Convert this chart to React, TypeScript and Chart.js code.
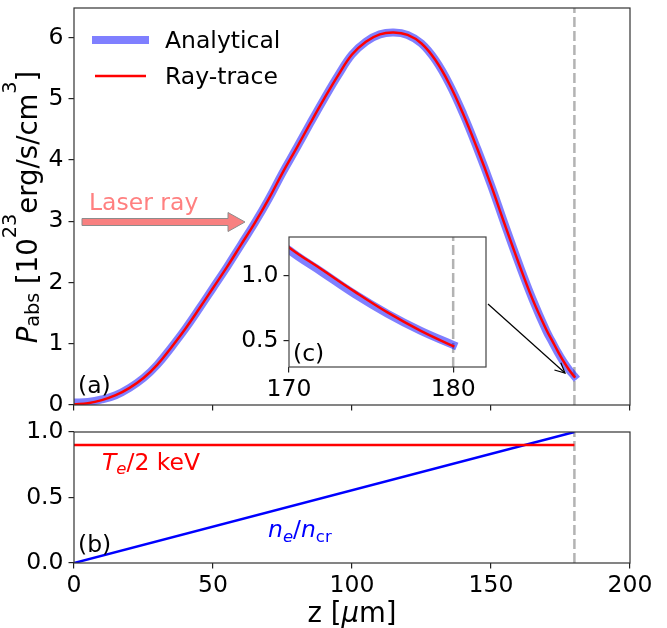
import React, { useEffect, useRef } from "react";
import { Chart, registerables } from "chart.js";

Chart.register(...registerables);

// ---------------- data ----------------
const zAbs = [0, 5, 10, 15, 20, 25, 30, 35, 40, 45, 50, 55, 60, 65, 70, 75, 80, 85, 90, 95, 100, 105, 110, 115, 120, 125, 130, 135, 140, 145, 150, 155, 160, 165, 170, 172, 174, 176, 178, 180];
const rayTrace = [0.01, 0.03, 0.08, 0.16, 0.28, 0.44, 0.66, 0.94, 1.24, 1.57, 1.91, 2.25, 2.61, 2.97, 3.36, 3.79, 4.19, 4.6, 5.0, 5.38, 5.72, 5.93, 6.05, 6.08, 6.04, 5.9, 5.63, 5.24, 4.75, 4.19, 3.59, 2.94, 2.31, 1.72, 1.22, 1.05, 0.88, 0.72, 0.58, 0.46];
const analytical = [0.04, 0.05, 0.09, 0.16, 0.28, 0.44, 0.66, 0.94, 1.24, 1.57, 1.91, 2.25, 2.61, 2.97, 3.36, 3.79, 4.19, 4.6, 5.0, 5.38, 5.72, 5.93, 6.05, 6.08, 6.04, 5.9, 5.63, 5.24, 4.75, 4.19, 3.59, 2.94, 2.31, 1.72, 1.2, 1.03, 0.86, 0.71, 0.58, 0.47];

const zProfile = [0, 180];
const teOver2keV = [0.9, 0.9];
const neOverNcr = [0.0, 1.0];

const zCritical = 180;

const xTicksMain = [0, 50, 100, 150, 200];
const yTicksMain = [0, 1, 2, 3, 4, 5, 6];
const yTicksProfile = [0, 0.5, 1.0];
const xTicksInset = [170, 180];
const yTicksInset = [0.5, 1.0];

const X_RANGE = [0, 200];
const Y_RANGE_MAIN = [0, 6.48];
const Y_RANGE_PROFILE = [0, 1];
const X_RANGE_INSET = [170, 182];
const Y_RANGE_INSET = [0.3, 1.3];

// ---------------- helpers ----------------
const FAM = '"DejaVu Sans", sans-serif';
const TICK = 23.5;
const LABEL = 27.5;

type Seg = { t: string; s: number; it?: boolean; dy?: number };

function fontOf(s: Seg) {
  return `${s.it ? "italic " : ""}${s.s}px ${FAM}`;
}

function drawRich(ctx: CanvasRenderingContext2D, segs: Seg[], x: number, y: number, color: string, align: "left" | "center" = "left") {
  let w = 0;
  for (const s of segs) {
    ctx.font = fontOf(s);
    w += ctx.measureText(s.t).width;
  }
  let cx = align === "center" ? x - w / 2 : x;
  ctx.fillStyle = color;
  ctx.textAlign = "left";
  ctx.textBaseline = "alphabetic";
  for (const s of segs) {
    ctx.font = fontOf(s);
    ctx.fillText(s.t, cx, y + (s.dy || 0));
    cx += ctx.measureText(s.t).width;
  }
}

function pts(xs: number[], ys: number[]) {
  return xs.map((x, i) => ({ x, y: ys[i] }));
}

function vline(x: number, range: number[]) {
  return [{ x, y: range[0] }, { x, y: range[1] }];
}

function scales(opts: {
  xr: number[]; xt: number[]; yr: number[]; yt: number[];
  showX: boolean; yW: number; xH: number; yFmt: (v: number) => string;
}) {
  const grid = { display: true, drawOnChartArea: false, drawTicks: true, tickLength: 5.5, color: "#222", lineWidth: 1.2 };
  return {
    x: {
      type: "linear" as const,
      min: opts.xr[0], max: opts.xr[1],
      grid, border: { display: false },
      afterBuildTicks: (s: any) => { s.ticks = opts.xt.map((v) => ({ value: v })); },
      afterFit: (s: any) => { s.height = opts.xH; s.paddingLeft = 0; s.paddingRight = 0; s.paddingTop = 0; s.paddingBottom = 0; },
      ticks: {
        display: opts.showX, autoSkip: false, maxRotation: 0, minRotation: 0, padding: 3,
        color: "#000", font: { family: FAM, size: TICK },
        callback: (v: any) => String(v),
      },
    },
    y: {
      type: "linear" as const,
      min: opts.yr[0], max: opts.yr[1],
      grid, border: { display: false },
      afterBuildTicks: (s: any) => { s.ticks = opts.yt.map((v) => ({ value: v })); },
      afterFit: (s: any) => { s.width = opts.yW; s.paddingLeft = 0; s.paddingRight = 0; s.paddingTop = 0; s.paddingBottom = 0; },
      ticks: {
        autoSkip: false, padding: 5, color: "#000", font: { family: FAM, size: TICK },
        callback: (v: any) => opts.yFmt(Number(v)),
      },
    },
  };
}

function frame(ctx: CanvasRenderingContext2D, a: any, color: string) {
  ctx.save();
  ctx.strokeStyle = color;
  ctx.lineWidth = 1.2;
  ctx.strokeRect(a.left, a.top, a.right - a.left, a.bottom - a.top);
  ctx.restore();
}

const MAIN = { left: 0, top: 0, w: 667, h: 420 };
const BOT = { left: 0, top: 410, w: 667, h: 218 };
const INS = { left: 230, top: 225, w: 270, h: 180 };

const BLUE_T = "rgba(0,0,255,0.5)";

export default function App() {
  const mainRef = useRef<HTMLCanvasElement>(null);
  const botRef = useRef<HTMLCanvasElement>(null);
  const insRef = useRef<HTMLCanvasElement>(null);

  useEffect(() => {
    const charts: Chart[] = [];

    const mainAnno = {
      id: "mainAnno",
      afterDraw(chart: any) {
        const ctx: CanvasRenderingContext2D = chart.ctx;
        frame(ctx, chart.chartArea, "#333");
        ctx.save();
        ctx.translate(-MAIN.left, -MAIN.top);
        // legend
        ctx.lineCap = "butt";
        ctx.strokeStyle = BLUE_T; ctx.lineWidth = 8;
        ctx.beginPath(); ctx.moveTo(92, 40); ctx.lineTo(149, 40); ctx.stroke();
        ctx.strokeStyle = "#ff0000"; ctx.lineWidth = 2.5;
        ctx.beginPath(); ctx.moveTo(95, 76); ctx.lineTo(146, 76); ctx.stroke();
        drawRich(ctx, [{ t: "Analytical", s: TICK }], 165, 48, "#000");
        drawRich(ctx, [{ t: "Ray-trace", s: TICK }], 165, 84, "#000");
        // panel label
        drawRich(ctx, [{ t: "(a)", s: TICK }], 78, 393, "#000");
        // laser ray
        drawRich(ctx, [{ t: "Laser ray", s: TICK }], 89, 210, "#ff8080");
        ctx.beginPath();
        ctx.moveTo(82, 218.5); ctx.lineTo(228, 218.5); ctx.lineTo(228, 212.5);
        ctx.lineTo(245, 222); ctx.lineTo(228, 231.5); ctx.lineTo(228, 225.5);
        ctx.lineTo(82, 225.5); ctx.closePath();
        ctx.fillStyle = "#f88080"; ctx.fill();
        ctx.strokeStyle = "#8c8c8c"; ctx.lineWidth = 1; ctx.stroke();
        // zoom arrow
        const x0 = 488, y0 = 304, x1 = 565, y1 = 373;
        const ang = Math.atan2(y1 - y0, x1 - x0);
        ctx.strokeStyle = "#000"; ctx.lineWidth = 1.2;
        ctx.beginPath(); ctx.moveTo(x0, y0); ctx.lineTo(x1, y1); ctx.stroke();
        ctx.beginPath();
        ctx.moveTo(x1 - 11 * Math.cos(ang - 0.45), y1 - 11 * Math.sin(ang - 0.45));
        ctx.lineTo(x1, y1);
        ctx.lineTo(x1 - 11 * Math.cos(ang + 0.45), y1 - 11 * Math.sin(ang + 0.45));
        ctx.stroke();
        // y label
        ctx.translate(37, 207);
        ctx.rotate(-Math.PI / 2);
        drawRich(ctx, [
          { t: "P", s: LABEL, it: true },
          { t: "abs", s: 19.3, dy: 2 },
          { t: " [10", s: LABEL },
          { t: "23", s: 19.3, dy: -21 },
          { t: "erg/s/cm", s: LABEL },
          { t: "3", s: 19.3, dy: -21 },
          { t: "]", s: LABEL },
        ], 0, 0, "#000", "center");
        ctx.restore();
      },
    };

    const botAnno = {
      id: "botAnno",
      afterDraw(chart: any) {
        const ctx: CanvasRenderingContext2D = chart.ctx;
        frame(ctx, chart.chartArea, "#333");
        ctx.save();
        ctx.translate(-BOT.left, -BOT.top);
        drawRich(ctx, [{ t: "(b)", s: TICK }], 78, 552, "#000");
        drawRich(ctx, [
          { t: "T", s: TICK, it: true },
          { t: "e", s: 16.5, it: true, dy: 4 },
          { t: "/2 keV", s: TICK },
        ], 102, 470, "#ff0000");
        drawRich(ctx, [
          { t: "n", s: TICK, it: true },
          { t: "e", s: 16.5, it: true, dy: 5 },
          { t: "/", s: TICK },
          { t: "n", s: TICK, it: true },
          { t: "cr", s: 16.5, dy: 5 },
        ], 268, 537, "#0000ff");
        drawRich(ctx, [
          { t: "z [", s: LABEL },
          { t: "μ", s: LABEL, it: true },
          { t: "m]", s: LABEL },
        ], 352, 622, "#000", "center");
        ctx.restore();
      },
    };

    const insAnno = {
      id: "insAnno",
      beforeDatasetsDraw(chart: any) {
        const ctx: CanvasRenderingContext2D = chart.ctx;
        const a = chart.chartArea;
        ctx.save();
        ctx.fillStyle = "#fff";
        ctx.fillRect(a.left, a.top, a.right - a.left, a.bottom - a.top);
        ctx.restore();
      },
      afterDraw(chart: any) {
        const ctx: CanvasRenderingContext2D = chart.ctx;
        frame(ctx, chart.chartArea, "#444");
        ctx.save();
        ctx.translate(-INS.left, -INS.top);
        drawRich(ctx, [{ t: "(c)", s: TICK }], 293, 361, "#000");
        ctx.restore();
      },
    };

    const common = {
      responsive: false,
      maintainAspectRatio: false,
      animation: false as const,
      events: [] as any[],
      plugins: { legend: { display: false }, tooltip: { enabled: false } },
      elements: { point: { radius: 0 } },
    };

    const absSets = (yr: number[]) => [
      { data: pts(zAbs, rayTrace), borderColor: "#ff0000", borderWidth: 2.5, tension: 0.4, borderCapStyle: "square" as const },
      { data: pts(zAbs, analytical), borderColor: BLUE_T, borderWidth: 8, tension: 0.4, borderCapStyle: "square" as const },
      { data: vline(zCritical, yr), borderColor: "#b3b3b3", borderWidth: 2.5, borderDash: [10, 4] },
    ];

    if (mainRef.current) {
      charts.push(new Chart(mainRef.current, {
        type: "line",
        data: { datasets: absSets(Y_RANGE_MAIN) as any },
        options: {
          ...common,
          layout: { padding: { left: 0, top: 8, right: 37, bottom: 0 }, autoPadding: false },
          scales: scales({ xr: X_RANGE, xt: xTicksMain, yr: Y_RANGE_MAIN, yt: yTicksMain, showX: false, yW: 74, xH: MAIN.h - 405, yFmt: (v) => String(v) }) as any,
        } as any,
        plugins: [mainAnno],
      }));
    }

    if (botRef.current) {
      charts.push(new Chart(botRef.current, {
        type: "line",
        data: {
          datasets: [
            { data: pts(zProfile, teOver2keV), borderColor: "#ff0000", borderWidth: 2.5 },
            { data: pts(zProfile, neOverNcr), borderColor: "#0000ff", borderWidth: 2.5 },
            { data: vline(zCritical, Y_RANGE_PROFILE), borderColor: "#b3b3b3", borderWidth: 2.5, borderDash: [10, 4] },
          ] as any,
        },
        options: {
          ...common,
          layout: { padding: { left: 0, top: 432 - BOT.top, right: 37, bottom: 0 }, autoPadding: false },
          scales: scales({ xr: X_RANGE, xt: xTicksMain, yr: Y_RANGE_PROFILE, yt: yTicksProfile, showX: true, yW: 74, xH: BOT.h - (563 - BOT.top), yFmt: (v) => v.toFixed(1) }) as any,
        } as any,
        plugins: [botAnno],
      }));
    }

    if (insRef.current) {
      charts.push(new Chart(insRef.current, {
        type: "line",
        data: { datasets: absSets(Y_RANGE_INSET) as any },
        options: {
          ...common,
          layout: { padding: { left: 0, top: 237 - INS.top, right: INS.w - (486 - INS.left), bottom: 0 }, autoPadding: false },
          scales: scales({ xr: X_RANGE_INSET, xt: xTicksInset, yr: Y_RANGE_INSET, yt: yTicksInset, showX: true, yW: 289 - INS.left, xH: INS.h - (367 - INS.top), yFmt: (v) => v.toFixed(1) }) as any,
        } as any,
        plugins: [insAnno],
      }));
    }

    return () => charts.forEach((c) => c.destroy());
  }, []);

  const cs = (b: { left: number; top: number; w: number; h: number }) => ({
    position: "absolute" as const, left: b.left, top: b.top, width: b.w, height: b.h,
  });

  return (
    <div style={{ position: "absolute", left: 0, top: 0, width: 667, height: 628, background: "#fff", overflow: "hidden" }}>
      <canvas ref={mainRef} width={MAIN.w} height={MAIN.h} style={cs(MAIN)} />
      <canvas ref={botRef} width={BOT.w} height={BOT.h} style={cs(BOT)} />
      <canvas ref={insRef} width={INS.w} height={INS.h} style={cs(INS)} />
    </div>
  );
}
